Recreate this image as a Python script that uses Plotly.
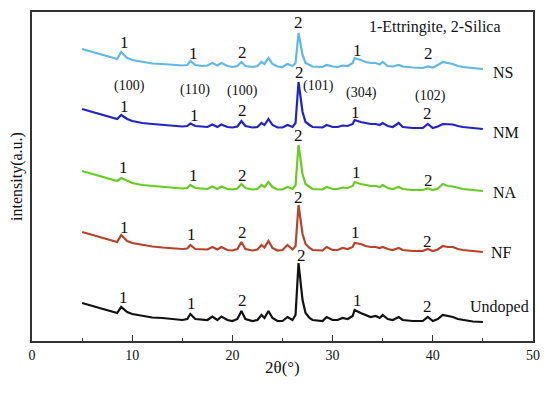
import plotly.graph_objects as go

two_theta = [5, 6, 7, 8, 8.5, 8.9, 9.5, 10, 11, 12, 13, 14, 15, 15.5, 15.8, 16.3, 17, 17.5, 18, 18.5,
             18.9, 19.5, 20, 20.5, 20.9, 21.3, 22, 22.5, 22.9, 23.2, 23.6, 24, 24.5, 25, 25.5, 26, 26.3,
             26.6, 27, 27.3, 27.7, 28, 29, 29.4, 30, 30.5, 31, 31.5, 32, 32.2, 32.8, 33.3, 33.8, 34.3,
             34.7, 35, 35.5, 36, 36.6, 37, 38, 39, 39.5, 40, 40.5, 41, 41.5, 42, 42.5, 43, 44, 45]

undoped = [19, 16, 13, 10, 9, 15, 10, 8, 6, 4.5, 4, 3, 2, 3, 8, 3, 2, 2, 5.5, 2,
           5.5, 2, 1, 3, 11, 3, 1, 2, 7, 4, 11, 4, 1, 1, 5, 2, 7, 59, 22, 9,
           4, 2, 1, 5, 2, 2, 4, 3, 6, 12, 9, 7, 5, 6, 4, 7, 3, 2, 5, 2,
           1, 1, 5, 1, 3, 7, 6, 5, 3, 2, 0.5, 0]
nf = [20, 17, 14, 11, 10, 17, 11, 9, 7, 5.5, 4.5, 3.5, 3, 3.5, 7, 3, 2.5, 2.5, 5, 2.5,
      5, 2, 1.5, 3, 10, 3, 1.5, 2.5, 7, 4.5, 11, 4, 1.5, 2, 7, 2.5, 6, 47, 18, 8,
      4, 2, 1.5, 5, 2, 2, 4, 3, 5, 9, 8, 6, 5, 5, 4, 5, 3, 2, 4, 2,
      1, 1, 3, 1, 2.5, 6, 5, 5, 3, 2, 1, 0]
na = [20, 17, 14, 11, 10, 13, 10, 8, 6, 5, 4, 3, 2.5, 3, 6, 3, 2, 2, 4.5, 2,
      4.5, 2, 1.5, 2.5, 7, 3, 1.5, 2, 6, 4, 9, 4, 1.5, 1.5, 4, 2, 6, 46, 17, 7,
      4, 2, 1.5, 4, 2, 2, 3.5, 3, 5, 9, 7, 6, 5, 5, 4, 6, 3, 2, 4, 2,
      1, 1, 2.5, 1, 2.5, 7, 5, 4.5, 3, 2, 1, 0]
nm = [20, 17, 14, 11, 10, 14, 10, 8, 6, 5, 4, 3, 2.5, 3, 5.5, 3, 2, 2, 4.5, 2,
      4.5, 2, 1.5, 2.5, 8, 3, 1.5, 2, 6, 4, 10, 4, 1.5, 1.5, 4, 2, 6, 47, 17, 7,
      4, 2, 1.5, 4, 2, 2, 3.5, 3, 5, 9, 7, 6, 5, 5, 4, 6, 3, 2, 6, 2,
      1, 1, 5, 1, 2.5, 5, 5, 4.5, 3, 2, 1, 0]
ns = [20, 17, 14, 11, 10, 17, 11, 9, 7, 5.5, 5, 4, 3.5, 4, 8, 4, 3, 3.5, 6, 3.5,
      6, 3, 2, 3, 7, 3, 2, 3, 7, 5, 11, 5, 2.5, 2, 5, 3, 6, 36, 14, 6,
      4, 2.5, 2, 4, 2.5, 2, 3.5, 3, 6, 11, 9, 7, 6, 6, 4.5, 7, 3, 2.5, 4, 2.5,
      1.5, 1, 2.5, 1.5, 4, 7, 6, 5, 3, 2, 1, 0]

series_names = ["Undoped", "NF", "NA", "NM", "NS"]
series_values = [undoped, nf, na, nm, ns]
stack_offsets = [19, 89, 150, 212, 272]
series_colors = ["#111111", "#b8432a", "#66cc22", "#2222cc", "#5fb7ea"]
name_label_x = [43.5, 45.6, 45.8, 45.8, 45.8]
name_label_y = [34, 89, 149, 209, 269]

peak_label_x = [9.1, 15.9, 21, 26.9, 32.5, 39.5,
                9.2, 15.9, 21, 26.6, 32.3, 39.5,
                9.1, 16.1, 21, 26.6, 32.4, 39.6,
                9.2, 16.2, 21, 26.7, 32.3, 39.5,
                9.2, 16.1, 21, 26.6, 32.5, 39.6]
peak_label_y = [44, 38, 41, 86, 41, 35,
                114, 107, 109, 144, 109, 100,
                174, 166, 166, 206, 169, 161,
                235, 226, 231, 269, 229, 228,
                299, 288, 289, 319, 291, 288]
peak_label_text = ["1", "1", "2", "2", "1", "2"] * 5

miller_x = [9.7, 16.3, 21, 28.6, 32.9, 39.8]
miller_y = [255, 251, 250, 255, 248, 245]
miller_text = ["(100)", "(110)", "(100)", "(101)", "(304)", "(102)"]

x_ticks = [0, 10, 20, 30, 40, 50]

FONT = "Liberation Serif"

fig = go.Figure()
for name, vals, off, col in zip(series_names, series_values, stack_offsets, series_colors):
    fig.add_trace(go.Scatter(x=two_theta, y=[v + off for v in vals], mode="lines",
                             line=dict(color=col, width=2.2), name=name, showlegend=False))

annotations = []
for x, y, t in zip(peak_label_x, peak_label_y, peak_label_text):
    annotations.append(dict(x=x, y=y, text=t, showarrow=False, font=dict(family=FONT, size=17, color="#111")))
for x, y, t in zip(miller_x, miller_y, miller_text):
    annotations.append(dict(x=x, y=y, text=t, showarrow=False, font=dict(family=FONT, size=14, color="#111")))
for x, y, t in zip(name_label_x, name_label_y, series_names):
    annotations.append(dict(x=x, y=y, text=t, showarrow=False, xanchor="left",
                            font=dict(family=FONT, size=16, color="#111")))
annotations.append(dict(x=40.2, y=314, text="1-Ettringite, 2-Silica", showarrow=False,
                        font=dict(family=FONT, size=16, color="#111")))
# axis titles
annotations.append(dict(xref="paper", yref="paper", x=0.5, y=-0.08, yanchor="middle", text="2θ(°)",
                        showarrow=False, font=dict(family=FONT, size=17, color="#111")))
annotations.append(dict(xref="paper", yref="paper", x=-0.031, y=0.5, xanchor="center", text="intensity(a.u.)",
                        textangle=-90, showarrow=False, borderpad=0,
                        font=dict(family=FONT, size=16, color="#111")))

# The page body adds an 8px margin, so the figure is sized to fit the 550x393 window.
fig.update_layout(
    width=542, height=385,
    margin=dict(l=24, r=17, t=4, b=52, autoexpand=False),
    plot_bgcolor="white", paper_bgcolor="white",
    annotations=annotations,
    xaxis=dict(range=[0, 50], tickvals=x_ticks, ticks="inside", ticklen=6, tickwidth=1.2,
               tickcolor="#333", showline=True, linecolor="#333", linewidth=1.5, mirror=True,
               showgrid=False, zeroline=False, automargin=False,
               minor=dict(dtick=5, ticks="inside", ticklen=3, tickcolor="#333", showgrid=False),
               tickfont=dict(family=FONT, size=14, color="#111")),
    yaxis=dict(range=[0, 329], showticklabels=False, ticks="", showline=True, linecolor="#333",
               linewidth=1.5, mirror=True, showgrid=False, zeroline=False, automargin=False),
)

fig.write_html("out.html")
